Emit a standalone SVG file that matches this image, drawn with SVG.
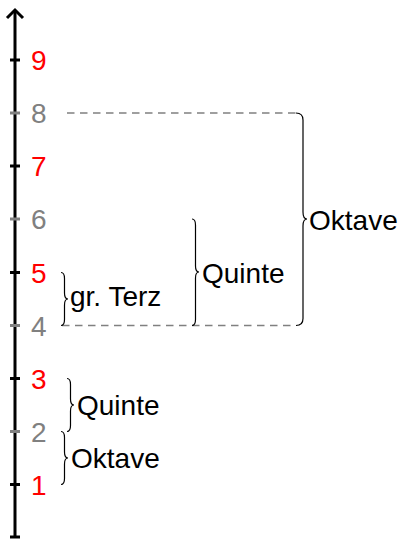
<svg xmlns="http://www.w3.org/2000/svg" width="404" height="539" viewBox="0 0 404 539">
<style>
.ax{stroke:#000;stroke-width:3;fill:none}
.tk{stroke-width:3}
.odd{stroke:#000}
.even{stroke:#808080}
.no{font-family:"Liberation Sans",Arial,sans-serif;font-size:28px}
.r{fill:#ff0000}
.g{fill:#808080}
.lbl{font-family:"Liberation Sans",Arial,sans-serif;font-size:28px;fill:#000}
.dash{stroke:#808080;stroke-width:1.5;stroke-dasharray:7.5 5.5;fill:none}
.br{stroke:#000;stroke-width:1.2;fill:none}
</style>
<rect width="404" height="539" fill="#fff"/>
<g id="axis">
<line class="ax" x1="15" y1="10" x2="15" y2="537"/>
<path class="ax" d="M7,18 L15,10 L23,18" stroke-width="2.5"/>
<line class="tk odd" x1="10" y1="537" x2="20" y2="537"/>
</g>
<g id="tick-9"><line class="tk odd" x1="10" y1="60" x2="20" y2="60"/><text class="no r" x="31" y="70">9</text></g>
<g id="tick-8"><line class="tk even" x1="10" y1="113" x2="20" y2="113"/><text class="no g" x="31" y="123">8</text></g>
<g id="tick-7"><line class="tk odd" x1="10" y1="166" x2="20" y2="166"/><text class="no r" x="31" y="176">7</text></g>
<g id="tick-6"><line class="tk even" x1="10" y1="219" x2="20" y2="219"/><text class="no g" x="31" y="229">6</text></g>
<g id="tick-5"><line class="tk odd" x1="10" y1="272.5" x2="20" y2="272.5"/><text class="no r" x="31" y="282.5">5</text></g>
<g id="tick-4"><line class="tk even" x1="10" y1="325.5" x2="20" y2="325.5"/><text class="no g" x="31" y="335.5">4</text></g>
<g id="tick-3"><line class="tk odd" x1="10" y1="378.5" x2="20" y2="378.5"/><text class="no r" x="31" y="388.5">3</text></g>
<g id="tick-2"><line class="tk even" x1="10" y1="431.5" x2="20" y2="431.5"/><text class="no g" x="31" y="441.5">2</text></g>
<g id="tick-1"><line class="tk odd" x1="10" y1="484.5" x2="20" y2="484.5"/><text class="no r" x="31" y="494.5">1</text></g>
<g id="connectors">
<line class="dash" x1="67" y1="113" x2="296" y2="113"/>
<line class="dash" x1="62" y1="325.5" x2="296" y2="325.5"/>
</g>
<g id="brace-oktave-top">
<path class="br" d="M296,113 Q303,113 303,120 L303,212 Q303,219 307,219 Q303,219 303,226 L303,318.5 Q303,325.5 296,325.5"/>
<text class="lbl" x="309" y="230">Oktave</text>
</g>
<g id="brace-quinte-top">
<path class="br" d="M192,219 Q195.5,219 195.5,225 L195.5,266 Q195.5,272 199,272 Q195.5,272 195.5,278 L195.5,319.5 Q195.5,325.5 192,325.5"/>
<text class="lbl" x="202" y="283">Quinte</text>
</g>
<g id="brace-terz">
<path class="br" d="M61,272.5 Q64.5,272.5 64.5,278.5 L64.5,293 Q64.5,299 68,299 Q64.5,299 64.5,305 L64.5,319.5 Q64.5,325.5 61,325.5"/>
<text class="lbl" x="70" y="306">gr. Terz</text>
</g>
<g id="brace-quinte-bottom">
<path class="br" d="M67,378.5 Q70.5,378.5 70.5,384.5 L70.5,399 Q70.5,405 74,405 Q70.5,405 70.5,411 L70.5,425.5 Q70.5,431.5 67,431.5"/>
<text class="lbl" x="77" y="415">Quinte</text>
</g>
<g id="brace-oktave-bottom">
<path class="br" d="M61,431.5 Q64.5,431.5 64.5,437.5 L64.5,452 Q64.5,458 68,458 Q64.5,458 64.5,464 L64.5,478.5 Q64.5,484.5 61,484.5"/>
<text class="lbl" x="71" y="468">Oktave</text>
</g>
</svg>
